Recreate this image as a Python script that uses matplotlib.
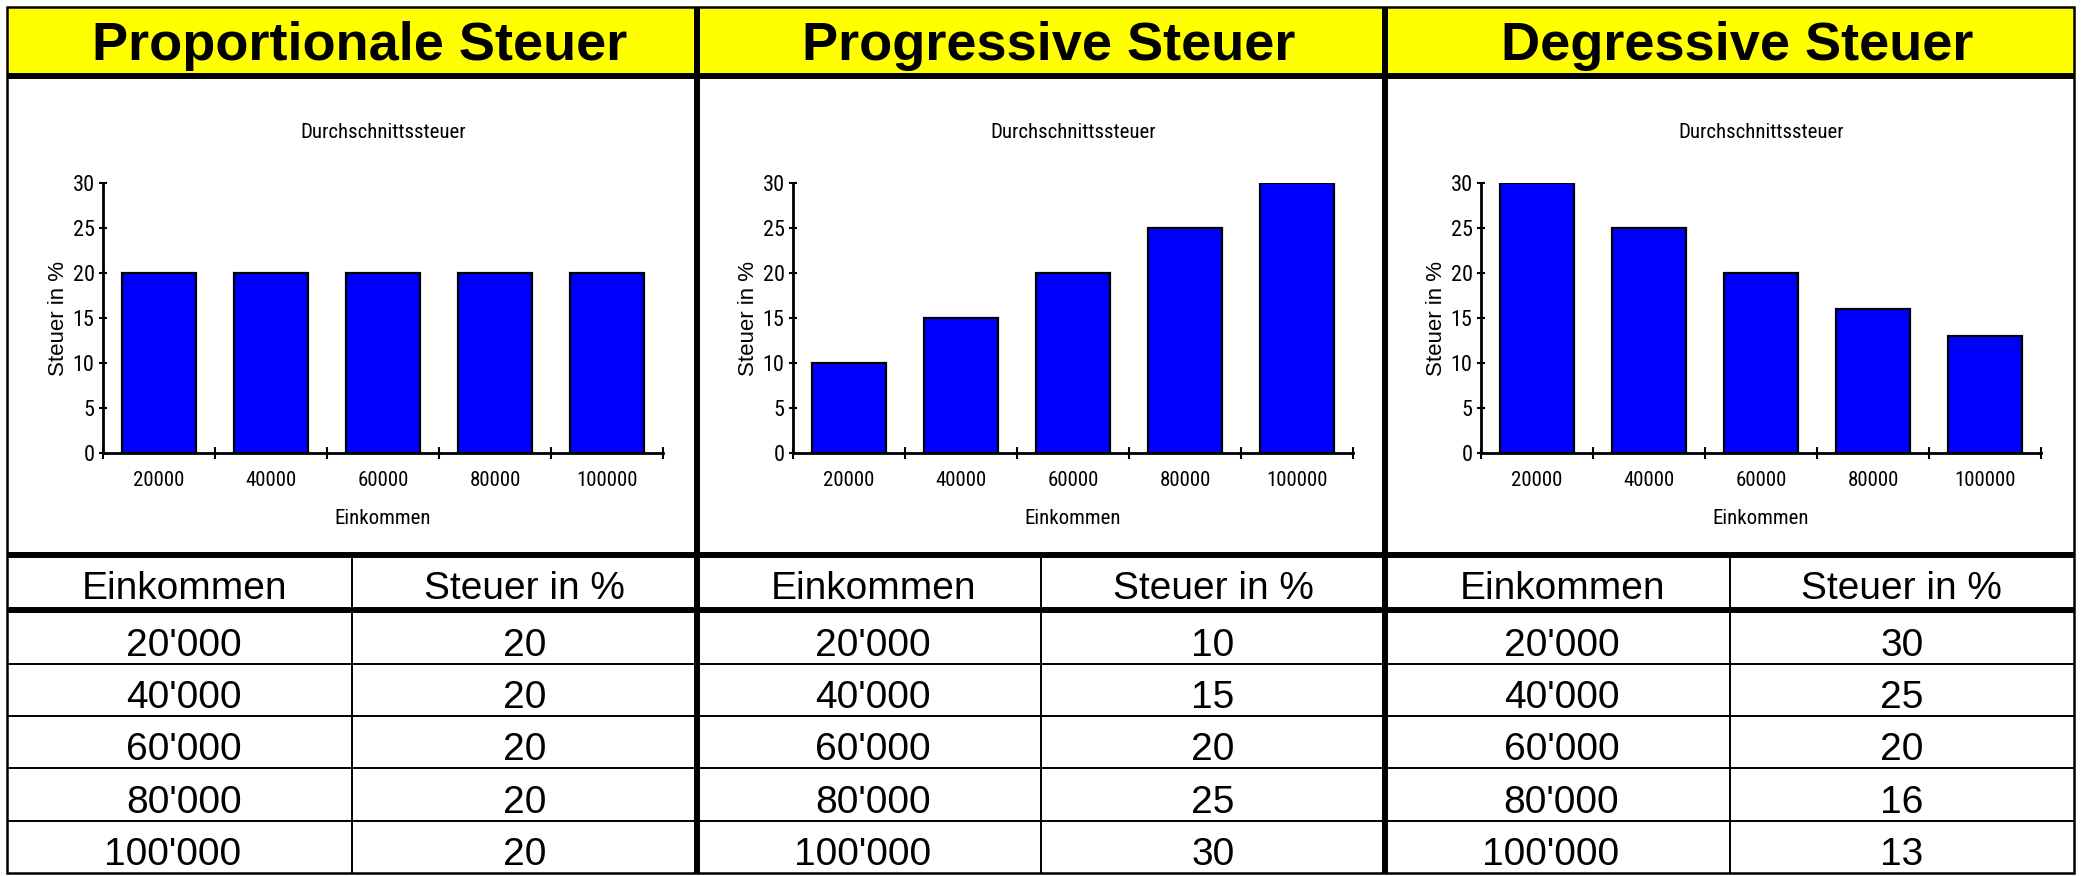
import matplotlib.pyplot as plt
from matplotlib import font_manager
from matplotlib.patches import Rectangle

# Steuerarten: Durchschnittssteuer je Einkommensstufe
einkommen = [20000, 40000, 60000, 80000, 100000]
steuer_proportional = [20, 20, 20, 20, 20]
steuer_progressiv = [10, 15, 20, 25, 30]
steuer_degressiv = [30, 25, 20, 16, 13]

titel = ['Proportionale Steuer', 'Progressive Steuer', 'Degressive Steuer']
reihen = [steuer_proportional, steuer_progressiv, steuer_degressiv]
tick_labels = [str(e) for e in einkommen]
tabellen_labels = [f"{e:,}".replace(',', "'") for e in einkommen]

# schmale Schrift für die kleinen Diagrammtexte, falls vorhanden
namen = {f.name for f in font_manager.fontManager.ttflist}
schmal, klein = 'Liberation Sans', 14
for kandidat, groesse in [('Liberation Sans Narrow', 16), ('Arial Narrow', 16),
                          ('Roboto Condensed', 15), ('DejaVu Sans Condensed', 14)]:
    if kandidat in namen:
        schmal, klein = kandidat, groesse
        break
plt.rcParams['font.family'] = [schmal, 'DejaVu Sans']

W, H = 2082, 876
fig = plt.figure(figsize=(W / 100, H / 100), dpi=100)

# Rahmen, Kopfzeilen und Tabelle in Pixelkoordinaten
frame = fig.add_axes([0, 0, 1, 1])
frame.set_xlim(0, W)
frame.set_ylim(H, 0)
frame.axis('off')

spalten = [7, 697, 1385, 2074]
oben, kopf_unten, diagramm_unten, thead_unten, unten = 7, 76, 555, 610, 873
zeilen_linien = [664, 716, 768, 821]
zeilen_basis = [656, 708, 760, 813, 865]

for i in range(3):
    x0, x1 = spalten[i], spalten[i + 1]
    xm = (x0 + x1) / 2
    frame.add_patch(Rectangle((x0, oben), x1 - x0, kopf_unten - oben,
                              facecolor='#ffff00', edgecolor='none'))
    frame.text(xm + 8, 60, titel[i], fontsize=39, fontweight='bold',
               family='Liberation Sans', ha='center', va='baseline')

    # Tabelle
    frame.text((x0 + xm) / 2 + 5, 599, 'Einkommen', fontsize=28,
               family='Liberation Sans', ha='center', va='baseline')
    frame.text((xm + x1) / 2, 599, 'Steuer in %', fontsize=28,
               family='Liberation Sans', ha='center', va='baseline')
    for lbl, wert, yb in zip(tabellen_labels, reihen[i], zeilen_basis):
        frame.text(x0 + 0.68 * (xm - x0), yb, lbl, fontsize=28,
                   family='Liberation Sans', ha='right', va='baseline')
        frame.text((xm + x1) / 2, yb, str(wert), fontsize=28,
                   family='Liberation Sans', ha='center', va='baseline')
    frame.vlines(xm, diagramm_unten, unten, color='black', lw=1.4)

    # Diagrammbeschriftung
    frame.text(x0 + 376, 133, 'Durchschnittssteuer', fontsize=klein,
               ha='center', va='center')
    frame.text(x0 + 376, 519, 'Einkommen', fontsize=klein,
               ha='center', va='center')
    frame.text(x0 + 52, 318, 'Steuer in %', fontsize=16, rotation=90,
               family='Liberation Sans', ha='center', va='center')

    # Balkendiagramm
    ax = fig.add_axes([(x0 + 96) / W, 1 - 453 / H, 560 / W, 270 / H])
    ax.set_facecolor('none')
    x = range(len(einkommen))
    ax.bar(x, reihen[i], width=0.66, color='#0000ff', edgecolor='black',
           linewidth=1.6, zorder=2)
    ax.set_xlim(-0.5, 4.5)
    ax.set_ylim(0, 30)
    ax.set_yticks(range(0, 31, 5))
    ax.set_xticks(list(x), tick_labels)
    ax.set_xticks([k - 0.5 for k in range(6)], minor=True)
    ax.tick_params(axis='x', which='major', length=0, pad=13, labelsize=klein)
    ax.tick_params(axis='x', which='minor', direction='inout', length=9, width=1.5)
    ax.tick_params(axis='y', direction='inout', length=6, width=1.5, pad=3,
                   labelsize=klein + 1)
    for s in ['top', 'right']:
        ax.spines[s].set_visible(False)
    for s in ['left', 'bottom']:
        ax.spines[s].set_linewidth(2)
        ax.spines[s].set_zorder(3)

# Linien des Rasters
frame.hlines([kopf_unten, diagramm_unten, thead_unten], spalten[0], spalten[-1],
             color='black', lw=4.3)
frame.hlines(zeilen_linien, spalten[0], spalten[-1], color='black', lw=1.4)
frame.vlines(spalten[1:3], oben, unten, color='black', lw=4.3)
frame.add_patch(Rectangle((spalten[0], oben), spalten[-1] - spalten[0], unten - oben,
                          facecolor='none', edgecolor='black', lw=1.8))

fig.savefig('out.png', dpi=100)
